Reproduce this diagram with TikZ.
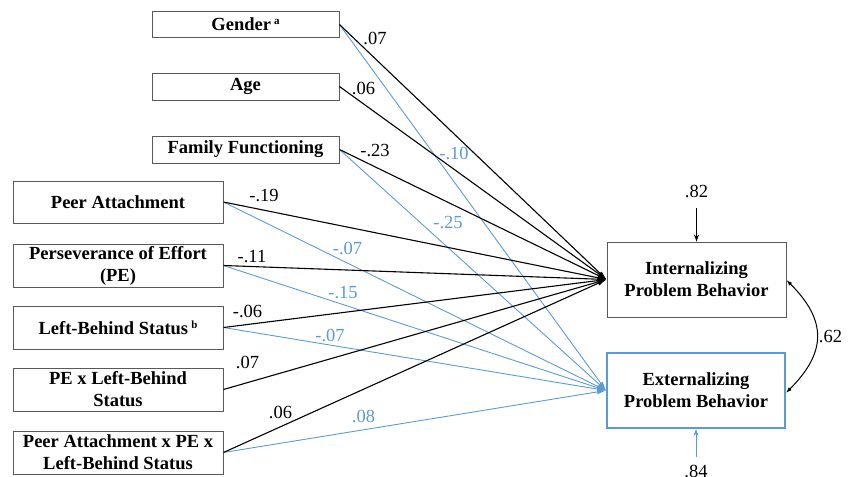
\documentclass[tikz,border=0pt]{standalone}
\usepackage{fontspec}
\setmainfont{Liberation Serif}
\usetikzlibrary{arrows.meta}
\definecolor{pblue}{HTML}{5B9BD5}
\definecolor{bgray}{HTML}{595959}
\newcommand{\supmark}[1]{\raisebox{6pt}{\fontsize{11}{11}\selectfont\bfseries #1}}
\begin{document}
\begin{tikzpicture}[x=1pt,y=-1pt,
  box/.style={draw=bgray, line width=0.9pt, inner sep=0pt, align=center,
    font=\fontsize{18.5}{22}\selectfont\bfseries},
  coef/.style={inner sep=0pt, font=\fontsize{18.5}{22}\selectfont},
  bcoef/.style={coef, text=pblue},
  pathk/.style={draw=black, line width=1.1pt, -{Latex[length=9pt,width=5pt]}},
  pathb/.style={draw=pblue, line width=0.9pt, -{Latex[length=9pt,width=5pt]}},
]
\useasboundingbox (0,0) rectangle (853,476);
% predictor boxes
\node[box, minimum width=187pt, minimum height=26pt] (gen) at (245.5,24.5) {Gender\,\supmark{a}};
\node[box, minimum width=187pt, minimum height=27pt] (age) at (245.5,86.5) {Age};
\node[box, minimum width=187pt, minimum height=27pt] (fam) at (245.5,149.5) {Family Functioning};
\node[box, minimum width=210pt, minimum height=42pt] (pa) at (118,202) {Peer Attachment};
\node[box, minimum width=210pt, minimum height=43pt] (pe) at (118,265.5) {Perseverance of Effort\\(PE)};
\node[box, minimum width=210pt, minimum height=43pt] (lb) at (118,327.5) {Left-Behind Status\,\supmark{b}};
\node[box, minimum width=210pt, minimum height=43pt] (pelb) at (118,389.5) {PE x Left-Behind\\Status};
\node[box, minimum width=210pt, minimum height=43pt] (papelb) at (118,452.5) {Peer Attachment x PE x\\Left-Behind Status};
% outcome boxes
\node[box, minimum width=179pt, minimum height=75pt] (int) at (696.5,279.5) {Internalizing\\Problem Behavior};
\node[box, draw=pblue, line width=1.8pt, minimum width=178pt, minimum height=75pt] (ext) at (696,390.5) {Externalizing\\Problem Behavior};
% blue paths to externalizing
\draw[pathb] (gen.east) -- (ext.west);
\draw[pathb] (fam.east) -- (ext.west);
\draw[pathb] (pa.east) -- (ext.west);
\draw[pathb] (pe.east) -- (ext.west);
\draw[pathb] (lb.east) -- (ext.west);
\draw[pathb] (papelb.east) -- (ext.west);
% black paths to internalizing
\draw[pathk] (gen.east) -- (int.west);
\draw[pathk] (age.east) -- (int.west);
\draw[pathk] (fam.east) -- (int.west);
\draw[pathk] (pa.east) -- (int.west);
\draw[pathk] (pe.east) -- (int.west);
\draw[pathk] (lb.east) -- (int.west);
\draw[pathk] (pelb.east) -- (int.west);
\draw[pathk] (papelb.east) -- (int.west);
% black coefficients
\node[coef] (c1) at (375,38.5) {.07};
\node[coef] (c2) at (363.5,88.5) {.06};
\node[coef] (c3) at (375,151) {-.23};
\node[coef] (c4) at (264,195.5) {-.19};
\node[coef] (c5) at (252,256.5) {-.11};
\node[coef] (c6) at (247.5,311) {-.06};
\node[coef] (c7) at (247.5,362.5) {.07};
\node[coef] (c8) at (280.5,412) {.06};
% blue coefficients
\node[bcoef] (b1) at (454,153) {-.10};
\node[bcoef] (b2) at (448,222.5) {-.25};
\node[bcoef] (b3) at (347.5,248.5) {-.07};
\node[bcoef] (b4) at (343,293) {-.15};
\node[bcoef] (b5) at (330,335) {-.07};
\node[bcoef] (b6) at (363.5,416.5) {.08};
% residuals
\coordinate (rint) at (696.5,208);
\coordinate (rext) at (696,457);
\draw[line width=1pt, -{Stealth[length=7pt,width=5pt]}] (rint) -- (int.north);
\draw[draw=pblue, line width=1pt, -{Stealth[length=7pt,width=5pt,open]}] (rext) -- (ext.south);
\node[coef] (r1) at (696.5,191.5) {.82};
\node[coef, anchor=north] (r2) at (696,465) {.84};
% correlation
\draw[line width=1pt, {Latex[length=6pt,width=4pt]}-{Latex[length=6pt,width=4pt]}]
  ([yshift=-0.5pt]int.east) to[out=-45,in=45,looseness=1.3] ([yshift=-2.5pt]ext.east);
\node[coef] (cor) at (830.5,336.5) {.62};
\end{tikzpicture}
\end{document}
